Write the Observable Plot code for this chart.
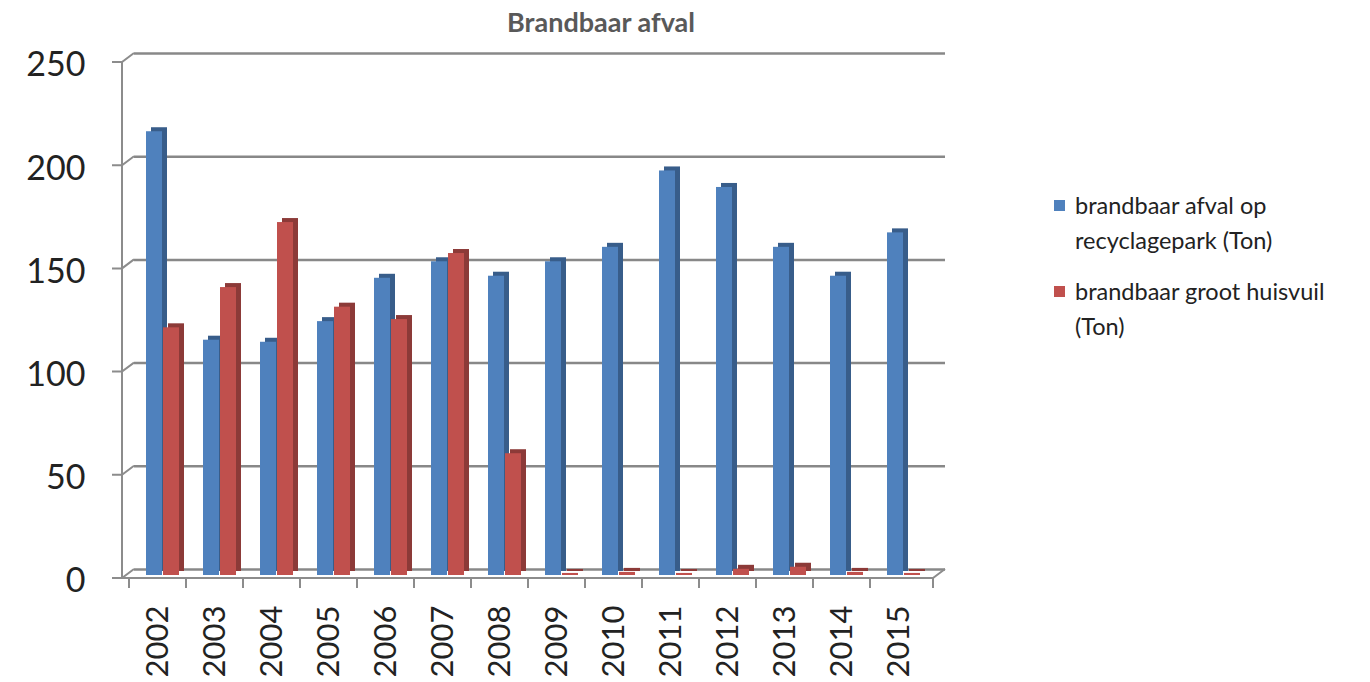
<!DOCTYPE html>
<html>
<head>
<meta charset="utf-8">
<script src="https://cdn.jsdelivr.net/npm/d3@7"></script>
<script src="https://cdn.jsdelivr.net/npm/@observablehq/plot@0.6"></script>
<style>
  html, body { margin: 0; padding: 0; background: #fff; }
  body { position: relative; width: 1370px; height: 682px; overflow: hidden; font-family: Lato, "Open Sans", sans-serif; }
  #title { position: absolute; left: 0; top: 5px; width: 1202px; text-align: center; font-weight: bold; font-size: 27px; color: #595959; }
  #chart { position: absolute; left: 0; top: 40px; }
  #legend { position: absolute; left: 1054px; top: 188px; font-size: 23.5px; color: #222; }
  .item { position: relative; padding-left: 21px; line-height: 35px; margin-bottom: 16px; }
  .sw { position: absolute; left: 0; top: 12px; width: 11px; height: 11px; }
</style>
</head>
<body>
<div id="title"></div>
<div id="chart"></div>
<div id="legend"></div>
<script>
const chartTitle = "Brandbaar afval";
const years = ["2002","2003","2004","2005","2006","2007","2008","2009","2010","2011","2012","2013","2014","2015"];
const recyclagepark = [215, 114, 113, 123, 144, 152, 145, 152, 159, 196, 188, 159, 145, 166];
const grootHuisvuil = [120, 139.5, 171, 130, 124, 156, 59, 1, 1.5, 1, 3, 4, 1.5, 1];
const yTicks = [0, 50, 100, 150, 200, 250];
const legendLines = [["brandbaar afval op", "recyclagepark (Ton)"], ["brandbaar groot huisvuil", "(Ton)"]];
const seriesColors = ["#4F81BD", "#C0504D"];
const sideColors = ["#385D8A", "#8C3A38"];

document.getElementById("title").textContent = chartTitle;

const blueData = years.map((year, i) => ({year, value: recyclagepark[i]}));
const redData = years.map((year, i) => ({year, value: grootHuisvuil[i]}));

const FRONT = 3, BACK = -6, DEPTH = 12;
const axisColor = "#8c8c8c";

function frame3d(index, scales, values, dims) {
  const g = d3.create("svg:g").attr("fill", "none").attr("stroke", axisColor).attr("stroke-width", 2);
  const xL = dims.marginLeft, xR = dims.width - dims.marginRight;
  const y = scales.y;
  g.append("line").attr("x1", xL).attr("x2", xL).attr("y1", y(yTicks[yTicks.length - 1]) + FRONT).attr("y2", y(0) + FRONT);
  for (const t of yTicks) {
    g.append("path").attr("d", `M${xL - 10},${y(t) + FRONT}H${xL}L${xL + DEPTH},${y(t) + BACK}`);
  }
  g.append("path").attr("d", `M${xL},${y(0) + FRONT}H${xR}L${xR + DEPTH},${y(0) + BACK}`);
  const bounds = years.map(d => scales.x(d)).concat([xR]);
  for (const x of bounds) {
    g.append("line").attr("x1", x).attr("x2", x).attr("y1", y(0) + FRONT).attr("y2", y(0) + FRONT + 10);
  }
  return g.node();
}

const plot = Plot.plot({
  width: 1370,
  height: 642,
  marginLeft: 122,
  marginRight: 437,
  marginTop: 19,
  marginBottom: 107,
  style: {fontFamily: "Lato, 'Open Sans', sans-serif", overflow: "visible"},
  x: {type: "band", domain: years, padding: 0, axis: null, label: null},
  y: {domain: [0, 250], axis: null, label: null},
  marks: [
    Plot.ruleY(yTicks, {dx: DEPTH, dy: BACK, stroke: "#888", strokeWidth: 2.5}),
    frame3d,
    Plot.barY(blueData, {x: "year", y: "value", insetLeft: 17, insetRight: 24, dx: 5, dy: -4, fill: sideColors[0]}),
    Plot.barY(blueData, {x: "year", y: "value", insetLeft: 17, insetRight: 24, fill: seriesColors[0]}),
    Plot.barY(redData, {x: "year", y: "value", insetLeft: 34, insetRight: 7, dx: 5, dy: -4, fill: sideColors[1]}),
    Plot.barY(redData, {x: "year", y: "value", insetLeft: 34, insetRight: 7, fill: seriesColors[1]}),
    Plot.axisY(yTicks, {tickSize: 0, tickPadding: 37, dy: 6, fontSize: 34, fill: "#222", label: null}),
    Plot.axisX({tickSize: 0, tickRotate: -90, tickPadding: 30, fontSize: 31, fill: "#222", label: null})
  ]
});
document.getElementById("chart").appendChild(plot);

const legend = document.getElementById("legend");
legendLines.forEach((lines, i) => {
  const item = document.createElement("div");
  item.className = "item";
  const sw = document.createElement("span");
  sw.className = "sw";
  sw.style.background = seriesColors[i];
  item.appendChild(sw);
  item.appendChild(document.createTextNode(lines[0]));
  item.appendChild(document.createElement("br"));
  item.appendChild(document.createTextNode(lines[1]));
  legend.appendChild(item);
});
</script>
</body>
</html>
